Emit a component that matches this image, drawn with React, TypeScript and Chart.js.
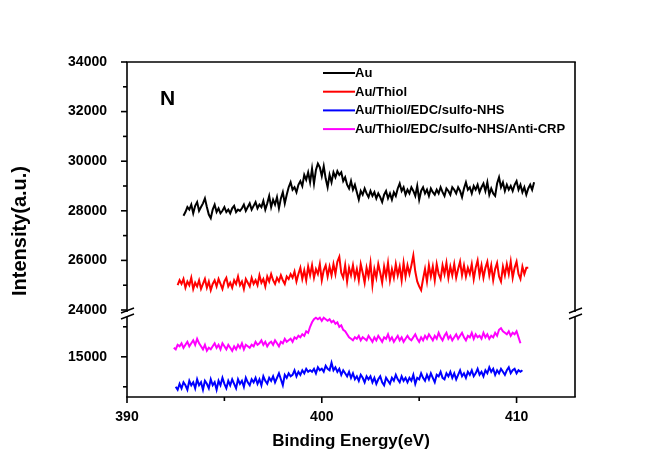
import React, { useEffect, useRef } from 'react';
import { Chart, registerables } from 'chart.js';

Chart.register(...registerables);

const seriesLabels = ['Au', 'Au/Thiol', 'Au/Thiol/EDC/sulfo-NHS', 'Au/Thiol/EDC/sulfo-NHS/Anti-CRP'];
const seriesColors = ['#000000', '#ff0000', '#0000ff', '#ff00ff'];

const energyStep = 0.1;

const auStart = 392.9;
const auValues = [
  27800, 27950, 28150, 28050, 28250, 27900, 28200, 28350, 28000, 28150,
  28300, 28500, 28150, 27850, 27700, 28050, 28250, 27950, 28100, 27900,
  28000, 28150, 27950, 28050, 27900, 28100, 28200, 27950, 28050, 28000,
  28100, 28250, 28000, 28150, 28300, 28050, 28200, 28350, 28100, 28250,
  28150, 28400, 28050, 28300, 28600, 28150, 28450, 28250, 28550, 28100,
  28500, 28750, 28300, 28650, 28950, 29150, 28850, 28950, 28750, 29050,
  29200, 29000, 29450, 29250, 29550, 29150, 29700, 29100, 29650, 29900,
  29750, 29400, 29800, 29300, 28950, 29450, 29150, 29550, 29350, 29600,
  29450, 29550, 29200, 29350, 29050, 28900, 29200, 28850, 29050, 28750,
  28450, 28800, 28650, 28900, 28700, 28550, 28800, 28600, 28750, 28500,
  28700, 28550, 28350, 28650, 28800, 28500, 28700, 28450, 28750, 28600,
  28900, 29100, 28800, 28950, 28650, 28850, 28700, 28950, 28800, 28600,
  29000, 28450, 28800, 28950, 28700, 28850, 28600, 28900, 28750, 28650,
  28850, 28700, 28950, 28750, 28600, 28900, 28800, 28650, 28950, 28850,
  28700, 28950, 28800, 28550, 28900, 29150, 28850, 28950, 28700, 29000,
  28850, 29050, 28750, 28950, 29100, 28800, 29150, 28650, 28900, 28700,
  28600, 29100, 29350, 28950, 29150, 28800, 29050, 28850, 29000, 28800,
  29050, 29200, 28850, 29050, 28750, 28950, 28650, 28900, 29050, 28850,
  29150,
];

const thiolStart = 392.6;
const thiolValues = [
  25000, 25200, 25050, 25250, 24900, 25150, 25000, 25300, 24850, 25100,
  24950, 25200, 24850, 25050, 25250, 24900, 25150, 24800, 25050, 25200,
  24950, 25250, 25050, 24850, 25150, 25300, 24950, 25100, 24900, 25200,
  25050, 25350, 25000, 25150, 24850, 25250, 25100, 24950, 25300, 25050,
  25200, 25000, 25400, 25100, 25250, 24950, 25350, 25150, 25450, 25200,
  25050, 25300, 25150, 25400, 25200, 25050, 25350, 25250, 25450, 25300,
  25550, 25150, 25450, 25700, 25250, 25600, 25200, 25750, 25400, 25800,
  25300, 25650, 25450, 25850, 25200, 25600, 25800, 25350, 25750, 25400,
  25850, 25450, 25950, 26150, 25500, 25300, 25800, 25150, 25700, 25400,
  25800, 25300, 25650, 25200, 25850, 25500, 25100, 25700, 25350, 25900,
  25000, 25650, 25300, 25850, 25500, 25100, 25750, 25350, 25900, 25200,
  25650, 25300, 25850, 25400, 25750, 25200, 25900, 25350, 25800, 25450,
  25800, 26200, 25550, 25150, 24950, 24800, 25250, 25650, 25150, 25800,
  25350, 25750, 25200, 25850, 25450, 25250, 25800, 25450, 25900, 25300,
  25750, 25400, 25850, 25300, 25650, 25950, 25400, 25800, 25350, 25700,
  25450, 25850, 25250, 25700, 26000, 25400, 25800, 25300, 25700, 25950,
  25400, 25800, 25200, 25650, 25900, 25350, 25150, 25750, 25400, 25850,
  25450, 25950, 25300, 25700, 25950, 25450, 25250, 25750, 25450, 25700,
  25700,
];

const edcStart = 392.5;
const edcValues = [
  14000, 13900, 14100, 13950, 14150, 14050, 13900, 14200, 14050, 14150,
  13950, 14250, 14050, 14150, 13900, 14200, 14100, 13950, 14250, 14050,
  14150, 13900, 14200, 14050, 14300, 14100, 13950, 14200, 14050, 14250,
  14100, 13950, 14250, 14100, 14200, 14000, 14300, 14150, 14050, 14250,
  14150, 14300, 14100, 14250, 14050, 14350, 14200, 14100, 14300, 14200,
  14350, 14150, 14300, 14450, 14250, 14050, 14400, 14300, 14450, 14350,
  14400, 14550, 14350, 14500, 14400, 14550, 14450, 14600, 14500, 14550,
  14500, 14600, 14450, 14650, 14550, 14600, 14500, 14700, 14600, 14550,
  14800, 14550, 14650, 14500, 14600, 14400, 14550, 14450, 14350, 14500,
  14300, 14450, 14250, 14350, 14200, 14400, 14300, 14150, 14350, 14250,
  14350, 14150, 14300, 14100, 14250, 14350, 14150, 14050, 14300, 14200,
  14100, 14300, 14200, 14400, 14250, 14150, 14350, 14200, 14300, 14150,
  14300, 14200, 14400, 14100, 14300, 14250, 14450, 14300, 14200, 14400,
  14250, 14450, 14300, 14150, 14400, 14350, 14500, 14300, 14250, 14450,
  14350, 14500, 14300, 14450, 14250, 14400, 14550, 14350, 14450, 14300,
  14500, 14400, 14550, 14350, 14450, 14600, 14400, 14500, 14350, 14550,
  14450, 14650, 14500, 14600, 14400, 14550, 14450, 14600, 14500, 14400,
  14550, 14650, 14450, 14550, 14600, 14450, 14550, 14500, 14550,
];

const crpStart = 392.4;
const crpValues = [
  15300, 15250, 15400, 15350, 15450, 15300, 15400, 15500, 15350, 15450,
  15550, 15400, 15600, 15450, 15350, 15250, 15400, 15200, 15300, 15250,
  15350, 15450, 15300, 15400, 15250, 15450, 15350, 15250, 15400, 15300,
  15200, 15350, 15250, 15400, 15300, 15450, 15250, 15400, 15350, 15300,
  15400, 15350, 15500, 15400, 15450, 15550, 15400, 15500, 15350, 15450,
  15500, 15400, 15550, 15450, 15350, 15500, 15450, 15600, 15500, 15550,
  15600, 15500, 15650, 15600, 15700, 15650, 15750, 15700, 15850, 15800,
  16000, 16150, 16250, 16300, 16250, 16300, 16200, 16300, 16250, 16200,
  16250, 16150, 16200, 16100, 16150, 16000, 16050, 15900, 15850, 15750,
  15650, 15600, 15550, 15650, 15600, 15700, 15550, 15650, 15600, 15550,
  15700, 15600, 15500, 15650, 15550, 15700, 15600, 15500, 15650, 15600,
  15750, 15550, 15650, 15500, 15600, 15700, 15550, 15650, 15500, 15600,
  15700, 15600, 15550, 15650, 15750, 15600, 15500, 15650, 15550, 15700,
  15600, 15750, 15650, 15550, 15700, 15600, 15800, 15650, 15550, 15700,
  15800, 15600, 15700, 15550, 15650, 15750, 15600, 15700, 15800, 15650,
  15550, 15700, 15650, 15800, 15600, 15750, 15650, 15700, 15600, 15800,
  15650, 15750, 15600, 15700, 15650, 15800, 15700, 15900, 15950, 15850,
  15800, 15750, 15850, 15700, 15800, 15750, 15850, 15650, 15450,
];

const xTicks = [390, 400, 410];
const xMinorTicks = [395, 405];
const upperTicks = [24000, 26000, 28000, 30000, 32000, 34000];
const upperMinorTicks = [25000, 27000, 29000, 31000, 33000];
const lowerTicks = [15000];
const lowerMinorTicks = [14000, 16000];

const FONT = "'Liberation Sans', Arial, Helvetica, sans-serif";

function toPoints(start: number, values: number[]) {
  return values.map((v, i) => ({ x: Math.round((start + i * energyStep) * 10) / 10, y: v }));
}

const framePlugin = {
  id: 'framePlugin',
  afterDraw(chart: any) {
    const ctx = chart.ctx as CanvasRenderingContext2D;
    const { left, right, top, bottom } = chart.chartArea;
    const xs = chart.scales.x;
    const yT = chart.scales.yTop;
    const yB = chart.scales.yBot;
    const breakY = yT.bottom;
    const line = (x1: number, y1: number, x2: number, y2: number) => {
      ctx.beginPath();
      ctx.moveTo(x1, y1);
      ctx.lineTo(x2, y2);
      ctx.stroke();
    };
    ctx.save();
    ctx.strokeStyle = '#000';
    ctx.lineWidth = 1.6;
    ctx.lineCap = 'butt';
    line(left - 0.8, top, right + 0.8, top);
    line(left - 0.8, bottom, right + 0.8, bottom);
    for (const xx of [left, right]) {
      line(xx, top, xx, breakY + 2);
      line(xx, breakY + 7, xx, bottom);
      ctx.lineWidth = 1.4;
      line(xx - 6, breakY + 3, xx + 7, breakY - 2);
      line(xx - 6, breakY + 9, xx + 7, breakY + 4);
      ctx.lineWidth = 1.6;
    }
    for (const v of upperTicks) { const p = yT.getPixelForValue(v); line(left - 6, p, left, p); }
    for (const v of upperMinorTicks) { const p = yT.getPixelForValue(v); line(left - 4, p, left, p); }
    for (const v of lowerTicks) { const p = yB.getPixelForValue(v); line(left - 6, p, left, p); }
    for (const v of lowerMinorTicks) { const p = yB.getPixelForValue(v); line(left - 4, p, left, p); }
    for (const v of xTicks) { const p = xs.getPixelForValue(v); line(p, bottom, p, bottom + 6); }
    for (const v of xMinorTicks) { const p = xs.getPixelForValue(v); line(p, bottom, p, bottom + 4); }

    ctx.fillStyle = '#000';
    ctx.textAlign = 'center';
    ctx.textBaseline = 'middle';
    ctx.font = `bold 17px ${FONT}`;
    ctx.fillText('Binding Energy(eV)', 351, 441);
    ctx.save();
    ctx.translate(20, 231);
    ctx.rotate(-Math.PI / 2);
    ctx.font = `bold 20px ${FONT}`;
    ctx.fillText('Intensity(a.u.)', 0, 0);
    ctx.restore();

    ctx.font = `bold 21px ${FONT}`;
    ctx.textAlign = 'left';
    ctx.fillText('N', 160, 99);

    ctx.font = `bold 13px ${FONT}`;
    chart.data.datasets.forEach((ds: any, i: number) => {
      const y = 73 + i * 18.7;
      ctx.strokeStyle = ds.borderColor;
      ctx.lineWidth = 2;
      line(323, y, 355, y);
      ctx.fillStyle = '#000';
      ctx.fillText(ds.label, 355, y + 0.5);
    });
    ctx.restore();
  },
};

export default function App() {
  const ref = useRef<HTMLCanvasElement>(null);
  useEffect(() => {
    const tickFont = { family: FONT, size: 14, weight: 'bold' as const };
    const fmt = (v: any) => String(v);
    const mk = (i: number, data: any[], yAxisID: string) => ({
      label: seriesLabels[i],
      data,
      borderColor: seriesColors[i],
      backgroundColor: seriesColors[i],
      borderWidth: 2,
      pointRadius: 0,
      tension: 0,
      fill: false,
      yAxisID,
    });
    const chart = new Chart(ref.current as HTMLCanvasElement, {
      type: 'line',
      data: {
        datasets: [
          mk(0, toPoints(auStart, auValues), 'yTop'),
          mk(1, toPoints(thiolStart, thiolValues), 'yTop'),
          mk(2, toPoints(edcStart, edcValues), 'yBot'),
          mk(3, toPoints(crpStart, crpValues), 'yBot'),
        ],
      },
      options: {
        responsive: false,
        animation: false,
        events: [],
        layout: { padding: { top: 62, right: 79, left: 0, bottom: 0 } },
        plugins: { legend: { display: false }, tooltip: { enabled: false }, title: { display: false } },
        scales: {
          x: {
            type: 'linear',
            position: 'bottom',
            min: 390,
            max: 413,
            grid: { display: false },
            border: { display: false },
            ticks: { font: tickFont, color: '#000', padding: 4, maxRotation: 0, callback: fmt },
            afterBuildTicks: (s: any) => { s.ticks = xTicks.map((v) => ({ value: v })); },
            afterFit: (s: any) => { s.height = 70; },
          },
          yBot: {
            type: 'linear',
            position: 'left',
            stack: 'y',
            stackWeight: 87,
            min: 13660,
            max: 16560,
            grid: { display: false },
            border: { display: false },
            ticks: { font: tickFont, color: '#000', padding: 12, callback: fmt },
            afterBuildTicks: (s: any) => { s.ticks = lowerTicks.map((v) => ({ value: v })); },
            afterFit: (s: any) => { s.width = 127; },
          },
          yTop: {
            type: 'linear',
            position: 'left',
            stack: 'y',
            stackWeight: 248,
            min: 24000,
            max: 34000,
            grid: { display: false },
            border: { display: false },
            ticks: { font: tickFont, color: '#000', padding: 12, callback: fmt },
            afterBuildTicks: (s: any) => { s.ticks = upperTicks.map((v) => ({ value: v })); },
            afterFit: (s: any) => { s.width = 127; },
          },
        },
      } as any,
      plugins: [framePlugin],
    });
    return () => chart.destroy();
  }, []);
  return (
    <div style={{ position: 'absolute', left: 0, top: 0, width: 654, height: 467, background: '#fff' }}>
      <canvas ref={ref} width={654} height={467} style={{ display: 'block' }} />
    </div>
  );
}
